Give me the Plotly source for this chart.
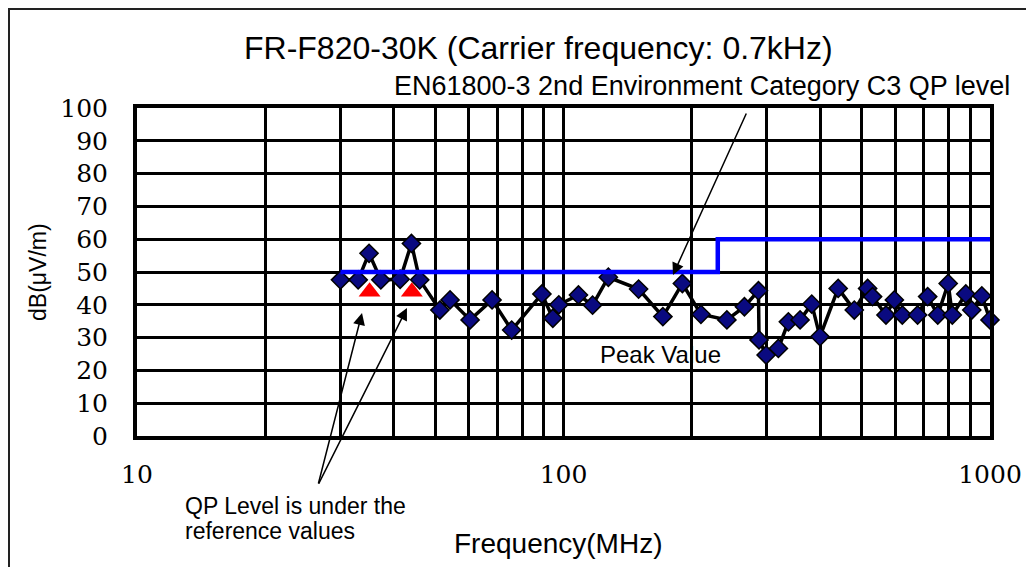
import plotly.graph_objects as go

# ---- data ----
freq_mhz = [30, 33, 35, 37.3, 41.4, 44, 46, 51.3, 54.2, 60.4, 68, 75.6, 89, 94.4, 97.5,
            108.4, 117, 127.4, 150, 171, 190, 210, 241.6, 265.6, 286.5, 287.4, 298.6,
            319, 336.7, 358.7, 382, 399.3, 440.6, 480.6, 516.5, 530.4, 570.3, 596.7,
            622.8, 676.5, 714.2, 754.2, 798, 815.8, 877.5, 906.3, 956.8, 1000]
peak_db = [47.6, 47.6, 55.7, 47.6, 47.8, 58.7, 47.6, 38.4, 41.5, 35.4, 41.5, 32.3, 43.3,
           35.9, 40, 43.0, 39.9, 48.4, 44.8, 36.4, 46.5, 37.1, 35.4, 39.4, 44.3, 29.3,
           24.7, 26.7, 34.8, 35.4, 40.2, 30.3, 45.0, 38.4, 45.0, 42.5, 36.9, 41.5, 36.9,
           36.9, 42.5, 36.9, 46.5, 36.9, 43.3, 38.4, 42.7, 35.4]
limit_freq = [30, 230, 230, 1000]
limit_db = [50, 50, 60, 60]
qp_freq = [35.1, 44.1]
qp_db = [44, 44]

x_tickvals = [10, 20, 30, 40, 50, 60, 70, 80, 90, 100, 200, 300, 400, 500, 600, 700, 800, 900, 1000]
x_ticktext = ["10", "", "", "", "", "", "", "", "", "100", "", "", "", "", "", "", "", "", "1000"]
y_tickvals = [0, 10, 20, 30, 40, 50, 60, 70, 80, 90, 100]

W, H = 1034, 567
OFF = 8  # page body margin
L, R, T, B = 137, 990, 108, 436  # plot area in screen pixels

def px(xp):
    return (xp - L) / (R - L)

def py(yp):
    return (B - yp) / (B - T)

fig = go.Figure()
fig.add_trace(go.Scatter(
    x=freq_mhz, y=peak_db, mode="lines+markers",
    line=dict(color="black", width=3.5),
    marker=dict(symbol="diamond", size=14, color="#0a0a80", line=dict(color="black", width=1.5)),
    showlegend=False, cliponaxis=False))
fig.add_trace(go.Scatter(
    x=limit_freq, y=limit_db, mode="lines",
    line=dict(color="#0000ff", width=4.5), showlegend=False))
fig.add_trace(go.Scatter(
    x=qp_freq, y=qp_db, mode="markers",
    marker=dict(symbol="triangle-up", size=19, color="#ff0000"), showlegend=False))

serif = "DejaVu Serif"
sans = "Liberation Sans"

fig.update_layout(
    width=W, height=H,
    margin=dict(l=L - OFF, r=W - R + OFF, t=T - OFF, b=H - B + OFF),
    paper_bgcolor="white", plot_bgcolor="white",
    xaxis=dict(type="log", range=[1, 3], tickvals=x_tickvals, ticktext=x_ticktext,
               showgrid=True, gridcolor="black", gridwidth=3,
               showline=True, linecolor="black", linewidth=4, mirror=True,
               ticks="outside", ticklen=13, tickcolor="rgba(0,0,0,0)",
               tickfont=dict(family=serif, size=25, color="black"), zeroline=False),
    yaxis=dict(range=[0, 100], tickvals=y_tickvals,
               showgrid=True, gridcolor="black", gridwidth=3,
               showline=True, linecolor="black", linewidth=4, mirror=True,
               ticks="outside", ticklen=20, tickcolor="rgba(0,0,0,0)",
               tickfont=dict(family=serif, size=25, color="black"), zeroline=False),
)

ann = []
ann.append(dict(text="FR-F820-30K (Carrier frequency: 0.7kHz)", x=px(538), y=py(48),
                xref="paper", yref="paper", showarrow=False, xanchor="center", yanchor="middle",
                font=dict(family=sans, size=32, color="black")))
ann.append(dict(text="EN61800-3 2nd Environment Category C3 QP level", x=px(702), y=py(86),
                xref="paper", yref="paper", showarrow=False, xanchor="center", yanchor="middle",
                font=dict(family=sans, size=27, color="black")))
ann.append(dict(text="Peak Value", x=px(660), y=py(354),
                xref="paper", yref="paper", showarrow=False, xanchor="center", yanchor="middle",
                font=dict(family=sans, size=24, color="black")))
ann.append(dict(text="QP Level is under the", x=px(183), y=py(506),
                xref="paper", yref="paper", showarrow=False, xanchor="left", yanchor="middle",
                font=dict(family=sans, size=23, color="black")))
ann.append(dict(text="reference values", x=px(183), y=py(531),
                xref="paper", yref="paper", showarrow=False, xanchor="left", yanchor="middle",
                font=dict(family=sans, size=23, color="black")))
ann.append(dict(text="Frequency(MHz)", x=px(558), y=py(543),
                xref="paper", yref="paper", showarrow=False, xanchor="center", yanchor="middle",
                font=dict(family=sans, size=28, color="black")))
ann.append(dict(text="dB(μV/m)", x=px(38), y=py(272), textangle=-90,
                xref="paper", yref="paper", showarrow=False, xanchor="center", yanchor="middle",
                font=dict(family=sans, size=23, color="black")))
# arrows
ann.append(dict(text="", x=2.2567, y=49.1, xref="x", yref="y", showarrow=True,
                ax=74, ay=-163, arrowhead=2, arrowsize=1.6, arrowwidth=1.5, arrowcolor="black"))
ann.append(dict(text="", x=1.5276, y=37.5, xref="x", yref="y", showarrow=True,
                ax=-44, ay=172, arrowhead=2, arrowsize=1.6, arrowwidth=1.5, arrowcolor="black"))
ann.append(dict(text="", x=1.633, y=39.0, xref="x", yref="y", showarrow=True,
                ax=-89, ay=177, arrowhead=2, arrowsize=1.6, arrowwidth=1.5, arrowcolor="black"))
fig.update_layout(annotations=ann)

fig.add_shape(type="rect", xref="paper", yref="paper",
              x0=px(OFF + 1), y0=py(OFF + 1), x1=px(1050), y1=py(620),
              line=dict(color="#222222", width=2), fillcolor="rgba(0,0,0,0)", layer="below")

fig.write_html("out.html")
